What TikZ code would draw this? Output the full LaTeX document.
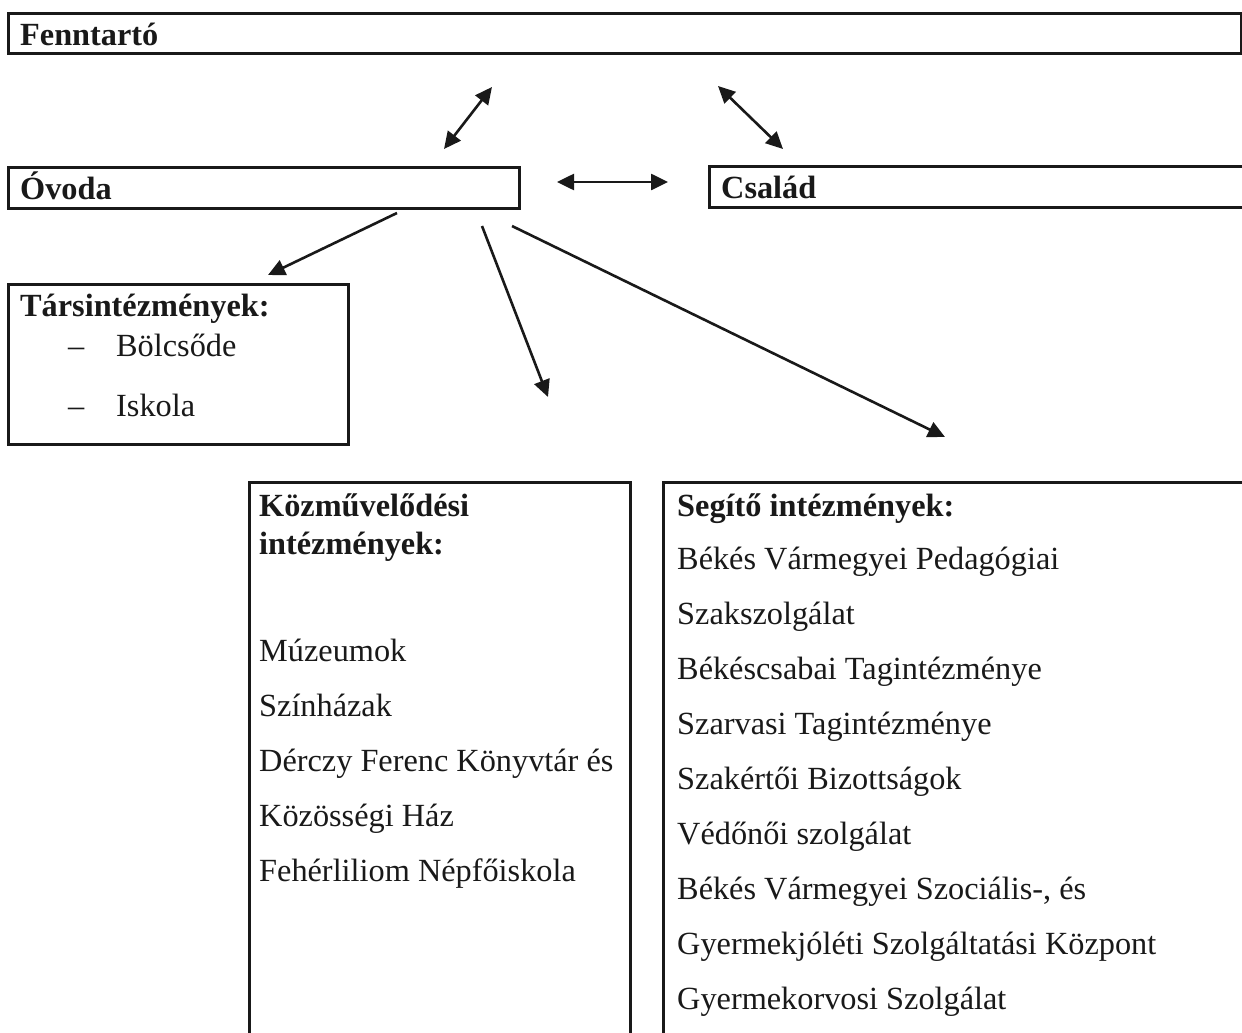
\documentclass[tikz,border=0pt]{standalone}
\usepackage{fontspec}
\setmainfont{Liberation Serif}
\usetikzlibrary{arrows.meta}
\begin{document}
\begin{tikzpicture}[x=1pt,y=-1pt,
  boxline/.style={draw=black!90,line width=3pt,anchor=north west,inner sep=0pt,outer sep=0pt},
  conn/.style={draw=black!90,line width=2.6pt,-{Triangle[length=17pt,width=16pt]}},
  conntwo/.style={draw=black!90,line width=2.6pt,{Triangle[length=17pt,width=16pt]}-{Triangle[length=17pt,width=16pt]}},
  txt/.style={anchor=base west,inner sep=0pt,text=black!90,font=\fontsize{32.3}{38}\selectfont},
  btxt/.style={anchor=base west,inner sep=0pt,text=black!90,font=\fontsize{32.3}{38}\selectfont\bfseries}]
\useasboundingbox (0,0) rectangle (1242,1033);
\clip (0,0) rectangle (1242,1033);
\fill[white] (0,0) rectangle (1242,1033);

% boxes
\node[boxline,minimum width=1233pt,minimum height=40pt] (fenn) at (8,14) {};
\node[boxline,minimum width=511pt,minimum height=41pt] (ovoda) at (8,167) {};
\node[boxline,minimum width=560pt,minimum height=41pt] (csalad) at (709,166) {};
\node[boxline,minimum width=340pt,minimum height=160pt] (tars) at (8,284) {};
\node[boxline,minimum width=381pt,minimum height=580pt] (kozm) at (249,482) {};
\node[boxline,minimum width=600pt,minimum height=580pt] (segito) at (663,482) {};

% titles
\node[btxt] (tfenn) at (20,46) {Fenntartó};
\node[btxt] (tovoda) at (20,199) {Óvoda};
\node[btxt] (tcsalad) at (721,198) {Család};

% Társintézmények
\node[btxt] (ttars) at (20,316) {Társintézmények:};
\node[txt] (d1) at (68,356) {–};
\node[txt] (t1) at (116,356) {Bölcsőde};
\node[txt] (d2) at (68,416) {–};
\node[txt] (t2) at (116,416) {Iskola};

% Közművelődési
\node[btxt] (k0) at (259,516) {Közművelődési};
\node[btxt] (k1) at (259,554) {intézmények:};
\node[txt] (k2) at (259,661) {Múzeumok};
\node[txt] (k3) at (259,716) {Színházak};
\node[txt] (k4) at (259,771) {Dérczy Ferenc Könyvtár és};
\node[txt] (k5) at (259,826) {Közösségi Ház};
\node[txt] (k6) at (259,881) {Fehérliliom Népfőiskola};

% Segítő
\node[btxt] (s0) at (677,516) {Segítő intézmények:};
\node[txt] (s1) at (677,569) {Békés Vármegyei Pedagógiai};
\node[txt] (s2) at (677,624) {Szakszolgálat};
\node[txt] (s3) at (677,679) {Békéscsabai Tagintézménye};
\node[txt] (s4) at (677,734) {Szarvasi Tagintézménye};
\node[txt] (s5) at (677,789) {Szakértői Bizottságok};
\node[txt] (s6) at (677,844) {Védőnői szolgálat};
\node[txt] (s7) at (677,899) {Békés Vármegyei Szociális-, és};
\node[txt] (s8) at (677,954) {Gyermekjóléti Szolgáltatási Központ};
\node[txt] (s9) at (677,1009) {Gyermekorvosi Szolgálat};

% connector ends
\coordinate (a1s) at (492,87);  \coordinate (a1e) at (444,149);
\coordinate (a2s) at (718,86);  \coordinate (a2e) at (783,149);
\coordinate (a3s) at (557,182); \coordinate (a3e) at (668,182);
\coordinate (a4s) at (397,213); \coordinate (a4e) at (268,275);
\coordinate (a5s) at (482,226); \coordinate (a5e) at (548,397);
\coordinate (a6s) at (512,226); \coordinate (a6e) at (945,437);

\draw[conntwo] (a1s) -- (a1e);
\draw[conntwo] (a2s) -- (a2e);
\draw[conntwo] (a3s) -- (a3e);
\draw[conn] (a4s) -- (a4e);
\draw[conn] (a5s) -- (a5e);
\draw[conn] (a6s) -- (a6e);
\end{tikzpicture}
\end{document}
